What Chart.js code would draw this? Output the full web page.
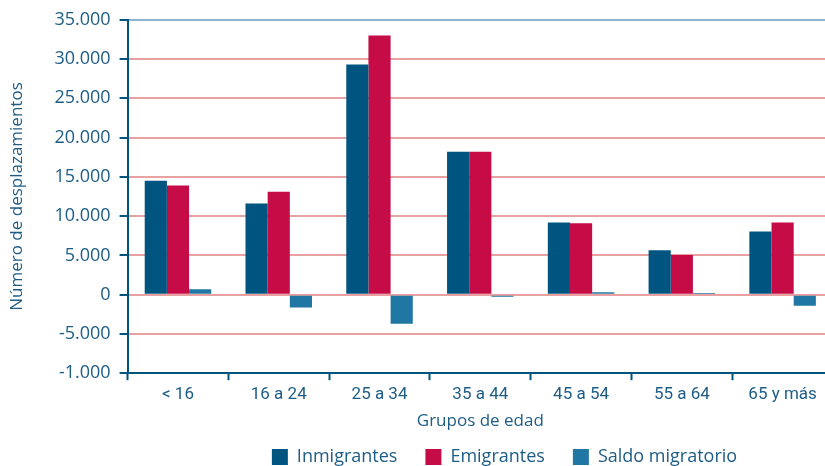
<!DOCTYPE html>
<html>
<head>
<meta charset="utf-8">
<script src="https://cdn.jsdelivr.net/npm/chart.js@4"></script>
<style>
  html, body { margin: 0; padding: 0; background: #fff; overflow: hidden; }
  #wrap { width: 833px; height: 466px; }
</style>
</head>
<body>
<div id="wrap"><canvas id="chart"></canvas></div>
<script>
const grupos = ['< 16', '16 a 24', '25 a 34', '35 a 44', '45 a 54', '55 a 64', '65 y más'];
const inmigrantes = [14500, 11600, 29300, 18200, 9200, 5650, 8050];
const emigrantes = [13900, 13100, 33000, 18200, 9080, 5050, 9200];
const saldo = [700, -1650, -3700, -250, 320, 200, -1400];

const yTicks = [35000, 30000, 25000, 20000, 15000, 10000, 5000, 0, -5000, -10000];
const yLabels = ['35.000', '30.000', '25.000', '20.000', '15.000', '10.000', '5.000', '0', '-5.000', '-1.000'];

const textColor = '#1d5c85';
const axisColor = '#00557f';

// legend sits right of the canvas centre in the original
const legendShift = {
    id: 'legendShift',
    afterLayout(chart) {
        chart.legend.left += 86;
        chart.legend.right += 86;
    }
};

new Chart(document.getElementById('chart').getContext('2d'), {
    type: 'bar',
    data: {
        labels: grupos,
        datasets: [
            { label: 'Inmigrantes', data: inmigrantes, backgroundColor: '#005580' },
            { label: 'Emigrantes', data: emigrantes, backgroundColor: '#c60c46' },
            { label: 'Saldo migratorio', data: saldo, backgroundColor: '#2077a3' }
        ]
    },
    options: {
        responsive: true,
        maintainAspectRatio: false,
        animation: false,
        layout: { padding: { top: 8, left: 4, right: 0, bottom: -10 } },
        datasets: { bar: { categoryPercentage: 0.66, barPercentage: 1.0 } },
        plugins: {
            tooltip: { enabled: false },
            legend: {
                position: 'bottom',
                labels: {
                    color: textColor,
                    font: { family: 'Open Sans', size: 18 },
                    boxWidth: 16,
                    boxHeight: 16,
                    padding: 28
                }
            }
        },
        scales: {
            x: {
                grid: {
                    offset: true,
                    drawOnChartArea: false,
                    drawTicks: true,
                    tickLength: 7,
                    tickWidth: 2,
                    tickColor: axisColor
                },
                border: { color: axisColor, width: 2 },
                ticks: { color: textColor, font: { family: 'Roboto', size: 17 }, padding: 4 },
                title: {
                    display: true,
                    text: 'Grupos de edad',
                    color: textColor,
                    font: { family: 'Open Sans', size: 17 },
                    padding: { top: 2, bottom: -11 }
                }
            },
            y: {
                min: -10000,
                max: 35000,
                afterBuildTicks(axis) {
                    axis.ticks = yTicks.map(v => ({ value: v }));
                },
                grid: {
                    color: c => c.tick.value === 35000 ? '#8fb3cf' : (c.tick.value === -10000 ? 'rgba(0,0,0,0)' : '#e8a0a0'),
                    lineWidth: 2,
                    tickLength: 8,
                    tickWidth: 2,
                    tickColor: axisColor
                },
                border: { color: axisColor, width: 2 },
                ticks: {
                    color: textColor,
                    font: { family: 'Open Sans', size: 18 },
                    padding: 9,
                    callback: v => yLabels[yTicks.indexOf(v)]
                },
                title: {
                    display: true,
                    text: 'Número de desplazamientos',
                    color: textColor,
                    font: { family: 'Open Sans', size: 17 },
                    padding: { top: 3, bottom: 18 }
                }
            }
        }
    },
    plugins: [legendShift]
});
</script>
</body>
</html>
